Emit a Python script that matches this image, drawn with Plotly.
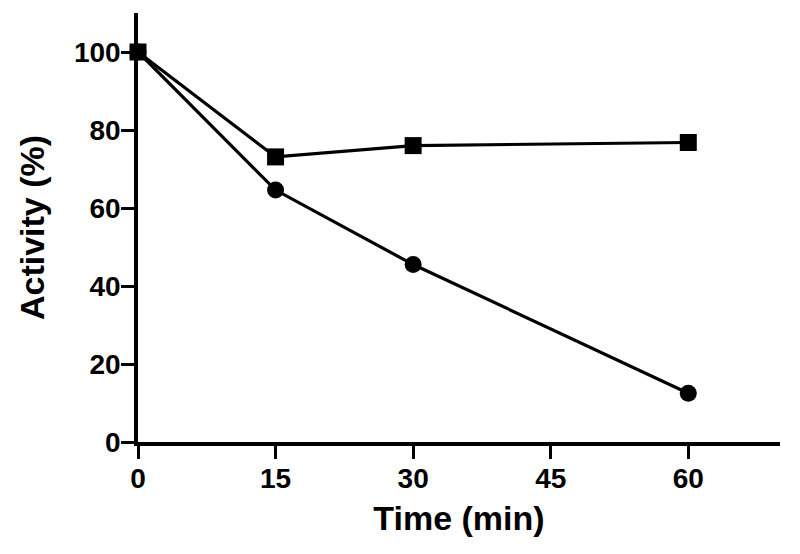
import plotly.graph_objects as go

# Time points (min) and residual activity (%)
time_min = [0, 15, 30, 60]
activity_square = [100, 73.1, 76.0, 76.8]
activity_circle = [100, 64.6, 45.5, 12.5]

x_ticks = [0, 15, 30, 45, 60]
y_ticks = [0, 20, 40, 60, 80, 100]

FONT = "Liberation Sans, Arial, sans-serif"

fig = go.Figure()

fig.add_trace(
    go.Scatter(
        x=time_min,
        y=activity_circle,
        mode="lines+markers",
        name="circle",
        line=dict(color="black", width=3.2),
        marker=dict(symbol="circle", size=17, color="black"),
        cliponaxis=False,
    )
)

fig.add_trace(
    go.Scatter(
        x=time_min,
        y=activity_square,
        mode="lines+markers",
        name="square",
        line=dict(color="black", width=3.2),
        marker=dict(symbol="square", size=17, color="black"),
        cliponaxis=False,
    )
)

fig.update_layout(
    width=800,
    height=554,
    margin=dict(l=138, r=20, t=13, b=112, autoexpand=False),
    plot_bgcolor="white",
    paper_bgcolor="white",
    showlegend=False,
    font=dict(family=FONT, color="black"),
)

fig.update_xaxes(
    range=[0, 70],
    tickvals=x_ticks,
    ticks="outside",
    ticklen=13,
    tickwidth=3,
    tickcolor="black",
    showline=True,
    linewidth=3.5,
    linecolor="black",
    showgrid=False,
    zeroline=False,
    automargin=False,
    ticklabelstandoff=-4,
    tickfont=dict(size=28, family=FONT, weight="bold"),
    title=dict(text="<b>Time (min)</b>", font=dict(size=34, family=FONT), standoff=14),
)

fig.update_yaxes(
    range=[0, 110],
    tickvals=y_ticks,
    ticks="outside",
    ticklen=13,
    tickwidth=3,
    tickcolor="black",
    showline=True,
    linewidth=3.5,
    linecolor="black",
    showgrid=False,
    zeroline=False,
    automargin=False,
    ticklabelstandoff=-5,
    tickfont=dict(size=28, family=FONT, weight="bold"),
    title=dict(text="<b>Activity (%)</b>", font=dict(size=34, family=FONT), standoff=20),
)

fig.write_html(
    "out.html",
    config={"displayModeBar": False},
    post_script="document.body.style.margin='0';",
)
